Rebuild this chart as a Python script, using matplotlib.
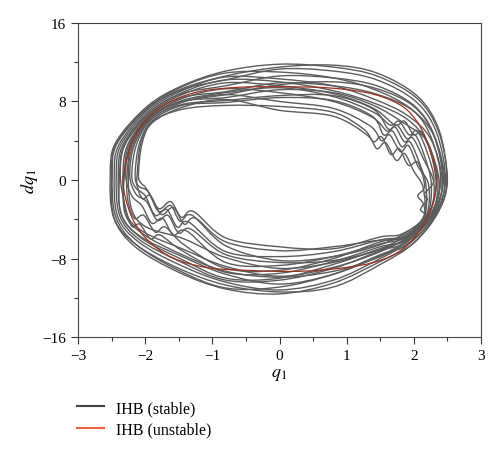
import numpy as np
import matplotlib
matplotlib.use("Agg")
import matplotlib.pyplot as plt
from matplotlib.path import Path
from matplotlib.patches import PathPatch
from matplotlib.lines import Line2D

plt.rcParams['font.family'] = ['Liberation Serif', 'DejaVu Serif']
plt.rcParams['mathtext.fontset'] = 'stix'

# axes ticks
x_ticks = [-3, -2, -1, 0, 1, 2, 3]
y_ticks = [-16, -8, 0, 8, 16]
legend_labels = ["IHB (stable)", "IHB (unstable)"]

# unstable IHB orbit, (q1, dq1)
unstable_orbit = [(-2.33, 0.0), (-2.27, 2.2), (-2.17, 4.3), (-1.95, 6.4), (-1.65, 7.9), (-1.2, 9.0),
                  (-0.6, 9.45), (0.0, 9.5), (0.7, 9.4), (1.3, 8.9), (1.7, 8.0), (1.95, 6.8),
                  (2.15, 4.7), (2.28, 2.0), (2.33, -0.5), (2.25, -3.0), (2.05, -5.5), (1.8, -7.2),
                  (1.45, -8.3), (1.0, -8.9), (0.3, -9.3), (-0.5, -9.2), (-1.1, -8.9), (-1.6, -7.9),
                  (-1.95, -6.2), (-2.17, -4.2), (-2.29, -1.9)]

# stable IHB trajectory, one list per loop
loop_01 = [(-2.52, 0.5), (-2.44, 3.8), (-1.97, 7.5), (-1.45, 9.6), (-0.8, 11.1), (0.0, 11.8), (0.8, 11.5),
           (1.45, 10.6), (2.05, 8.3), (2.37, 4.9), (2.50, 0.0), (2.36, -3.3), (2.0, -6.4), (1.5, -8.3),
           (0.8, -10.5), (0.0, -11.6), (-0.8, -11.1), (-1.5, -9.4), (-2.15, -6.8), (-2.47, -3.8)]
loop_02 = [(-2.49, 0.5), (-2.42, 3.7), (-1.96, 7.35), (-1.45, 9.5), (-0.8, 10.9), (0.0, 11.0), (0.8, 10.4),
           (1.42, 9.2), (1.95, 7.3), (2.30, 4.5), (2.46, 0.0), (2.34, -3.3), (1.93, -6.5), (1.5, -7.6),
           (0.8, -9.6), (0.0, -10.9), (-0.8, -11.0), (-1.5, -9.2), (-2.13, -6.6), (-2.44, -3.7)]
loop_03 = [(-2.46, 0.5), (-2.39, 3.6), (-1.96, 7.2), (-1.45, 9.2), (-0.8, 10.2), (0.0, 11.3), (0.8, 11.1),
           (1.45, 10.2), (2.03, 8.0), (2.34, 4.8), (2.47, 0.0), (2.32, -3.4), (2.0, -6.0), (1.5, -8.0),
           (0.8, -10.2), (0.0, -11.2), (-0.8, -10.4), (-1.5, -8.6), (-2.1, -6.3), (-2.41, -3.7)]
loop_04 = [(-2.43, 0.5), (-2.36, 3.6), (-1.95, 7.05), (-1.45, 9.1), (-0.8, 10.5), (0.0, 10.3), (0.8, 9.6),
           (1.42, 8.2), (1.9, 6.6), (2.25, 4.2), (2.42, 0.0), (2.30, -3.4), (1.9, -6.3), (1.5, -7.2),
           (0.8, -9.0), (0.0, -10.2), (-0.8, -10.2), (-1.48, -8.3), (-2.08, -6.1), (-2.38, -3.6)]
loop_05 = [(-2.40, 0.5), (-2.33, 3.6), (-1.94, 6.9), (-1.45, 8.8), (-0.8, 9.6), (0.0, 10.6), (0.8, 10.4),
           (1.45, 9.6), (2.0, 7.6), (2.30, 4.6), (2.44, 0.0), (2.28, -3.5), (1.98, -5.8), (1.5, -7.7),
           (0.8, -9.6), (0.0, -10.6), (-0.8, -9.6), (-1.48, -7.7), (-2.06, -5.8), (-2.35, -3.6)]
loop_06 = [(-2.37, 0.5), (-2.30, 3.6), (-1.93, 6.75), (-1.45, 8.7), (-0.8, 9.9), (0.0, 9.6), (0.8, 8.8),
           (1.4, 7.3), (1.72, 5.6), (1.86, 6.0), (2.0, 4.6), (2.12, 4.9), (2.26, 2.6), (2.36, -0.3),
           (2.26, -3.5), (1.88, -6.1), (1.5, -6.8), (0.8, -8.3), (0.0, -9.5), (-0.8, -9.4), (-1.45, -7.2),
           (-1.78, -5.6), (-1.92, -6.0), (-2.08, -4.5), (-2.2, -4.7), (-2.3, -2.6)]
loop_07 = [(-2.33, 0.5), (-2.26, 3.6), (-1.93, 6.6), (-1.45, 8.4), (-0.8, 9.0), (0.0, 9.9), (0.8, 9.6),
           (1.42, 8.8), (1.98, 7.1), (2.26, 4.3), (2.40, 0.0), (2.25, -3.5), (1.96, -5.6), (1.5, -7.3),
           (0.8, -8.9), (0.0, -9.8), (-0.8, -8.8), (-1.45, -7.0), (-2.02, -5.3), (-2.28, -3.4)]
loop_08 = [(-2.29, 0.5), (-2.22, 3.6), (-1.92, 6.45), (-1.45, 8.3), (-0.8, 9.3), (0.0, 8.9), (0.8, 8.0),
           (1.38, 6.4), (1.6, 5.0), (1.72, 5.4), (1.86, 3.9), (1.98, 4.3), (2.14, 2.2), (2.30, -0.4),
           (2.22, -3.6), (1.86, -5.9), (1.5, -6.5), (0.8, -7.8), (0.0, -8.7), (-0.8, -8.4), (-1.38, -5.2),
           (-1.58, -5.6), (-1.74, -3.9), (-1.9, -4.4), (-2.05, -2.6), (-2.2, -1.6)]
loop_09 = [(-2.25, 0.5), (-2.18, 3.6), (-1.92, 6.3), (-1.45, 8.0), (-0.8, 8.4), (0.0, 9.2), (0.8, 8.9),
           (1.4, 7.6), (1.85, 5.8), (2.2, 3.9), (2.34, 0.0), (2.22, -3.6), (1.95, -5.4), (1.5, -7.0),
           (0.8, -8.4), (0.0, -9.0), (-0.8, -7.9), (-1.42, -6.0), (-1.98, -4.8), (-2.2, -3.0)]
loop_10 = [(-2.20, 0.5), (-2.13, 3.6), (-1.91, 6.15), (-1.45, 7.9), (-0.8, 8.7), (0.0, 8.0), (0.8, 7.3),
           (1.35, 5.5), (1.52, 4.0), (1.64, 4.6), (1.8, 2.9), (1.92, 3.5), (2.06, 1.4), (2.22, -0.5),
           (2.18, -3.7), (1.84, -5.7), (1.5, -6.1), (0.8, -7.3), (0.0, -7.8), (-0.8, -7.3), (-1.35, -4.3),
           (-1.52, -4.8), (-1.68, -3.0), (-1.85, -3.6), (-2.0, -1.6), (-2.14, -0.8)]
loop_11 = [(-2.15, 0.5), (-2.09, 3.6), (-1.90, 6.0), (-1.45, 7.6), (-0.8, 7.9), (0.0, 8.4), (0.8, 8.1),
           (1.38, 6.5), (1.55, 4.6), (1.68, 5.0), (1.82, 3.4), (1.94, 3.9), (2.08, 1.8), (2.18, -0.5),
           (2.16, -3.7), (1.92, -5.2), (1.5, -6.6), (0.8, -7.8), (0.0, -8.2), (-0.8, -6.7), (-1.3, -3.6),
           (-1.48, -4.2), (-1.62, -2.6), (-1.8, -3.2), (-1.95, -1.2), (-2.1, -0.6)]
loop_12 = [(-2.10, 0.5), (-2.05, 3.6), (-1.90, 5.8), (-1.45, 7.4), (-0.8, 8.2), (0.0, 7.1), (0.8, 6.5),
           (1.3, 4.6), (1.45, 3.2), (1.58, 3.8), (1.74, 2.0), (1.86, 2.7), (2.0, 0.9), (2.14, -0.8),
           (2.14, -3.8), (1.82, -5.5), (1.5, -5.8), (0.8, -7.0), (0.0, -6.8), (-0.8, -5.9), (-1.28, -3.2),
           (-1.46, -3.8), (-1.62, -2.2), (-1.8, -2.9), (-1.98, -0.9), (-2.06, -0.3)]
loop_13 = [(-2.50, 0.5), (-2.43, 3.75), (-1.96, 7.4), (-1.45, 9.3), (-0.8, 10.6), (0.0, 11.5), (0.8, 11.7),
           (1.45, 10.9), (2.06, 8.5), (2.38, 5.0), (2.49, 0.2), (2.38, -3.0), (2.0, -6.4), (1.5, -8.6),
           (0.8, -10.9), (0.0, -11.4), (-0.8, -10.7), (-1.5, -9.0), (-2.13, -6.6), (-2.46, -3.9)]
loop_14 = [(-2.38, 0.5), (-2.31, 3.6), (-1.94, 6.85), (-1.45, 8.9), (-0.8, 10.2), (0.0, 10.0), (0.8, 9.1),
           (1.42, 7.8), (1.9, 6.2), (2.2, 3.8), (2.38, -0.2), (2.28, -3.4), (1.93, -6.0), (1.5, -7.0),
           (0.8, -8.6), (0.0, -10.0), (-0.8, -10.0), (-1.48, -8.0), (-2.06, -5.9), (-2.36, -3.4)]
loop_15 = [(-2.27, 0.5), (-2.2, 3.6), (-1.92, 6.4), (-1.45, 8.1), (-0.8, 8.9), (0.0, 9.4), (0.8, 8.5),
           (1.4, 6.9), (1.65, 5.6), (1.78, 6.0), (1.93, 4.6), (2.05, 5.0), (2.2, 2.8), (2.3, 0.0),
           (2.16, -1.4), (2.2, -2.0), (2.1, -3.0), (2.18, -3.8), (1.9, -5.8), (1.5, -6.3), (0.8, -8.0),
           (0.0, -9.2), (-0.8, -9.0), (-1.42, -6.6), (-1.7, -4.8), (-1.85, -5.3), (-2.02, -3.6),
           (-2.16, -3.9), (-2.26, -2.0)]
loop_16 = [(-2.12, 0.5), (-2.07, 3.6), (-1.9, 5.9), (-1.45, 7.2), (-0.8, 7.6), (0.0, 7.5), (0.8, 6.9),
           (1.25, 5.2), (1.4, 3.9), (1.52, 4.4), (1.66, 2.6), (1.78, 3.2), (1.92, 1.5), (2.06, 1.8),
           (2.16, -0.6), (2.06, -1.6), (2.14, -2.4), (2.15, -3.8), (1.86, -5.8), (1.4, -6.2), (0.8, -6.8),
           (0.0, -7.2), (-0.8, -6.3), (-1.25, -3.9), (-1.42, -4.5), (-1.58, -2.8), (-1.76, -3.5),
           (-1.92, -1.6), (-2.04, -1.9), (-2.12, -0.6)]
loop_17 = [(-2.31, 0.5), (-2.24, 3.6), (-1.93, 6.5), (-1.45, 8.0), (-0.8, 8.7), (0.0, 9.7), (0.8, 10.0),
           (1.45, 9.3), (2.0, 7.5), (2.3, 4.5), (2.43, 0.0), (2.3, -3.4), (1.93, -6.1), (1.5, -7.8),
           (0.8, -9.3), (0.0, -9.9), (-0.8, -9.3), (-1.45, -7.6), (-2.03, -5.5), (-2.3, -3.4)]
loop_18 = [(-2.23, 0.5), (-2.16, 3.6), (-1.91, 6.2), (-1.45, 7.7), (-0.8, 8.1), (0.0, 8.6), (0.8, 8.6),
           (1.4, 7.2), (1.62, 5.2), (1.75, 5.6), (1.9, 4.2), (2.02, 4.6), (2.16, 2.4), (2.26, -0.4),
           (2.2, -3.6), (1.89, -5.9), (1.5, -7.1), (0.8, -8.2), (0.0, -8.4), (-0.8, -7.6), (-1.32, -5.0),
           (-1.5, -5.4), (-1.66, -3.6), (-1.82, -4.1), (-1.98, -2.2), (-2.14, -1.4)]

stable_loops = [loop_01, loop_02, loop_03, loop_04, loop_05, loop_06, loop_07, loop_08, loop_09,
                loop_10, loop_11, loop_12, loop_13, loop_14, loop_15, loop_16, loop_17, loop_18]


def closed_curve(points):
    # smooth closed path through the read points (Catmull-Rom drawn as Bezier)
    p = np.array(points, dtype=float)
    n = len(p)
    verts = [p[0]]
    codes = [Path.MOVETO]
    for i in range(n):
        p0, p1, p2, p3 = p[i - 1], p[i], p[(i + 1) % n], p[(i + 2) % n]
        verts += [p1 + (p2 - p0) / 6.0, p2 - (p3 - p1) / 6.0, p2]
        codes += [Path.CURVE4] * 3
    return Path(verts, codes)


fig = plt.figure(figsize=(5.0, 4.52), dpi=100)
ax = fig.add_axes([0.156, 0.252, 0.806, 0.695])

for loop in stable_loops:
    ax.add_patch(PathPatch(closed_curve(loop), fill=False, edgecolor='#5c5c5c', lw=1.0, zorder=2))
ax.add_patch(PathPatch(closed_curve(unstable_orbit), fill=False, edgecolor='#a0301e', lw=0.9, zorder=3))

ax.set_xlim(-3, 3)
ax.set_ylim(-16, 16)
ax.set_xticks(x_ticks)
ax.set_yticks(y_ticks)
ax.set_xticks(np.arange(-2.5, 3, 1.0), minor=True)
ax.set_yticks([-12, -4, 4, 12], minor=True)
ax.tick_params(which='both', direction='out', colors='#333333', labelcolor='black', labelsize=11, width=0.8)
ax.tick_params(which='major', length=5)
ax.tick_params(which='minor', length=3)
for s in ax.spines.values():
    s.set_color('#444444')
    s.set_linewidth(0.8)

ax.set_xlabel('$q_1$', fontsize=13, labelpad=2)
ax.set_ylabel('$dq_1$', fontsize=13, labelpad=2)

handles = [Line2D([], [], color='#444444', lw=1.5), Line2D([], [], color='#ee6040', lw=1.5)]
fig.legend(handles, legend_labels, loc='upper left', bbox_to_anchor=(0.153, 0.113), frameon=False,
           fontsize=11.5, handlelength=1.75, handletextpad=0.75, labelspacing=0.35,
           borderpad=0, borderaxespad=0)

fig.savefig('out.png', dpi=100)
